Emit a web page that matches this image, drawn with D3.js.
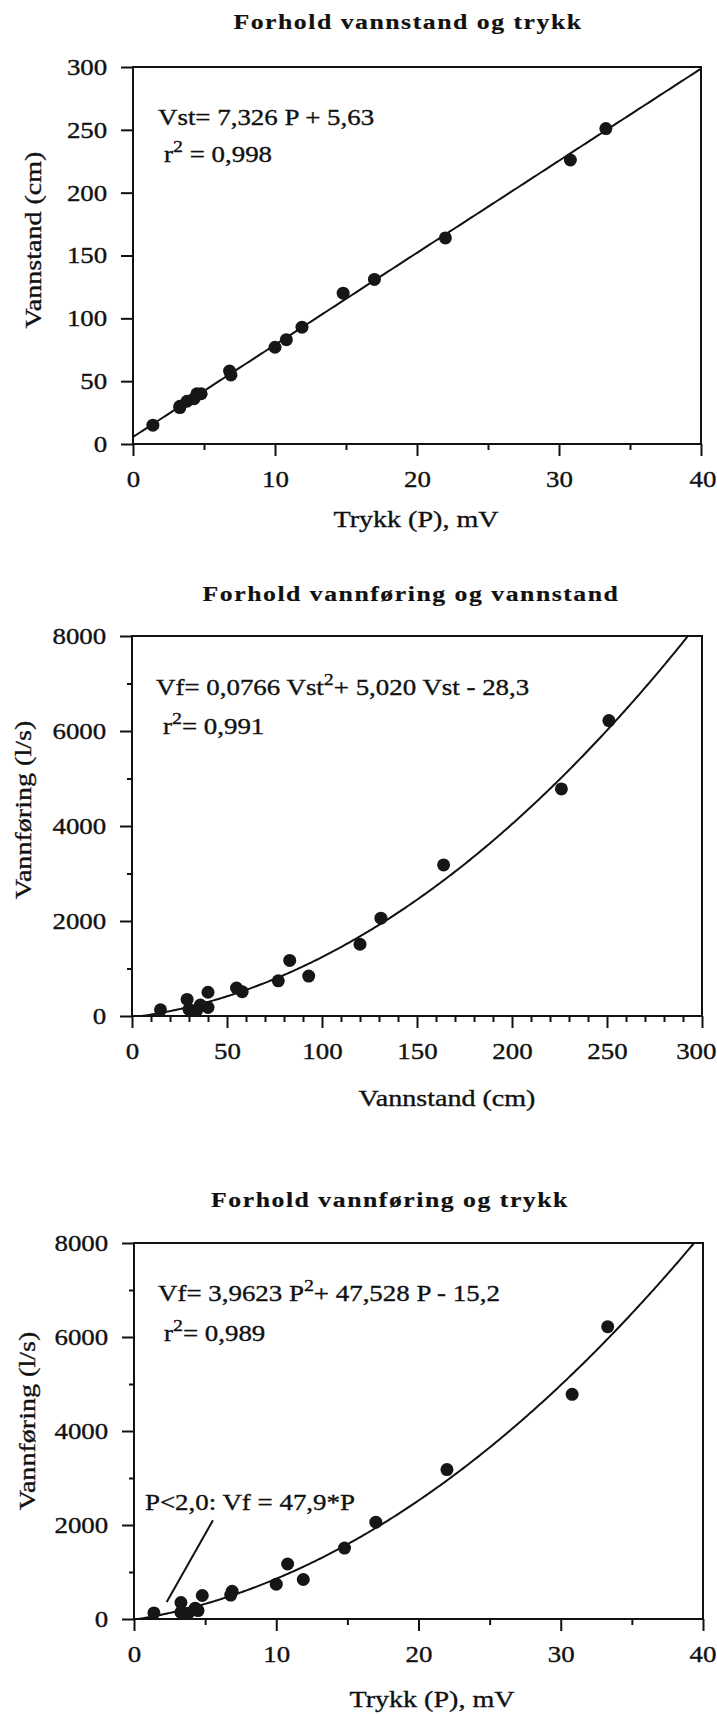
<!DOCTYPE html>
<html>
<head>
<meta charset="utf-8">
<script src="https://cdn.jsdelivr.net/npm/d3@7"></script>
<style>
  body { margin: 0; background: #fff; }
  svg { display: block; }
</style>
</head>
<body>
<div id="figur"></div>
<script>
// maalinger (samme 17 maalinger brukt i alle tre diagram)
const trykk      = [1.4, 3.3, 3.3, 3.8, 4.3, 4.5, 4.8, 6.8, 6.9, 10.0, 10.8, 11.9, 14.8, 17.0, 22.0, 30.8, 33.3];
const vannstand  = [15, 29, 30, 34, 36, 40, 40, 58, 55, 77, 83, 93, 120, 131, 164, 226, 251];
const vannforing = [130, 350, 140, 120, 230, 180, 500, 510, 590, 740, 1170, 840, 1510, 2060, 3180, 4780, 6220];

// regresjonskoeffisienter (hoeyeste grad foerst), lest fra likningene
const koefVst   = [7.326, 5.63];
const koefVfVst = [0.0766, 5.020, -28.3];
const koefVfP   = [3.9623, 47.528, -15.2];

// annotasjonslinje i nederste diagram (P, Vf)
const pilLinje = [[5.55, 2100], [2.3, 360]];

// akseverdier
const trykkTicks      = [0, 10, 20, 30, 40];
const trykkMinor      = [5, 15, 25, 35];
const vannstandTicks  = [0, 50, 100, 150, 200, 250, 300];
const vannstandMinor  = [10, 20, 30, 40, 60, 70, 80, 90, 110, 120, 130, 140, 160, 170, 180, 190, 210, 220, 230, 240, 260, 270, 280, 290];
const vannforingTicks = [0, 2000, 4000, 6000, 8000];
const vannforingMinor = [1000, 3000, 5000, 7000];

// tekster
const titler = ['Forhold vannstand og trykk', 'Forhold vannføring og vannstand', 'Forhold vannføring og trykk'];
const likninger = [
  [['Vst= 7,326 P + 5,63']],
  [['Vf= 0,0766 Vst'], ['2', 'sup'], ['+ 5,020 Vst - 28,3']],
  [['Vf= 3,9623 P'], ['2', 'sup'], ['+ 47,528 P - 15,2']]
];
const r2tekster = [
  [['r'], ['2', 'sup'], [' = 0,998']],
  [['r'], ['2', 'sup'], ['= 0,991']],
  [['r'], ['2', 'sup'], ['= 0,989']]
];
const pilTekst = 'P<2,0: Vf = 47,9*P';

const SX = 1.17; // skriften i originalen er bredere enn Times
const FONT = "'Liberation Serif', 'Times New Roman', serif";
const INK = '#111';

const svg = d3.select('#figur').append('svg')
  .attr('width', 717)
  .attr('height', 1714);

svg.append('rect').attr('width', 717).attr('height', 1714).attr('fill', '#fff');

//skriver tekst, evt. med hevet skrift
function tekst(g, x, y, deler, opt) {
  opt = opt || {};
  const t = g.append('text')
    .attr('transform', `translate(${x},${y})${opt.rot ? ' rotate(-90)' : ''} scale(${SX},1)`)
    .attr('text-anchor', opt.anchor || 'start')
    .attr('fill', INK)
    .attr('stroke', INK)
    .attr('stroke-width', opt.bold ? 0.2 : 0.35)
    .style('font-family', FONT)
    .style('font-size', (opt.size || 23) + 'px')
    .style('font-weight', opt.bold ? 'bold' : 'normal')
    .style('letter-spacing', (opt.ls || 0) + 'px');
  if (typeof deler === 'string') deler = [[deler]];
  let hevet = false;
  deler.forEach(d => {
    const ts = t.append('tspan').text(d[0]);
    if (d[1] === 'sup') {
      ts.attr('dy', -10).style('font-size', '17px');
      hevet = true;
    } else if (hevet) {
      ts.attr('dy', 10);
      hevet = false;
    }
  });
  return t;
}

function polyverdi(koef, v) {
  return koef.reduce((s, k) => s * v + k, 0);
}

const paneler = [
  { tittel: titler[0], tx: 408, ty: 29,
    x0: 133, x1: 701, y0: 67, y1: 444,
    xDom: [0, 40], yDom: [0, 300],
    xMaj: trykkTicks, xMin: trykkMinor, yMaj: vannstandTicks, yMin: [],
    xs: trykk, ys: vannstand, koef: koefVst,
    xTittel: 'Trykk (P), mV', xtx: 416, xty: 527,
    yTittel: 'Vannstand (cm)', ytx: 41, yty: 240,
    lik: likninger[0], likX: 158, likY: 125,
    r2: r2tekster[0], r2X: 164, r2Y: 162 },
  { tittel: titler[1], tx: 411, ty: 601,
    x0: 132, x1: 702, y0: 636, y1: 1016,
    xDom: [0, 300], yDom: [0, 8000],
    xMaj: vannstandTicks, xMin: vannstandMinor, yMaj: vannforingTicks, yMin: vannforingMinor,
    xs: vannstand, ys: vannforing, koef: koefVfVst,
    xTittel: 'Vannstand (cm)', xtx: 447, xty: 1106,
    yTittel: 'Vannføring (l/s)', ytx: 31, yty: 810,
    lik: likninger[1], likX: 156, likY: 695,
    r2: r2tekster[1], r2X: 163, r2Y: 734 },
  { tittel: titler[2], tx: 390, ty: 1207,
    x0: 134, x1: 703, y0: 1243, y1: 1619,
    xDom: [0, 40], yDom: [0, 8000],
    xMaj: trykkTicks, xMin: trykkMinor, yMaj: vannforingTicks, yMin: vannforingMinor,
    xs: trykk, ys: vannforing, koef: koefVfP,
    xTittel: 'Trykk (P), mV', xtx: 432, xty: 1707,
    yTittel: 'Vannføring (l/s)', ytx: 35, yty: 1421,
    lik: likninger[2], likX: 158, likY: 1301,
    r2: r2tekster[2], r2X: 164, r2Y: 1341,
    pil: true }
];

paneler.forEach((p, i) => {
  const w = p.x1 - p.x0, h = p.y1 - p.y0;
  const x = d3.scaleLinear().domain(p.xDom).range([0, w]);
  const y = d3.scaleLinear().domain(p.yDom).range([h, 0]);

  tekst(svg, p.tx, p.ty, p.tittel, { anchor: 'middle', bold: true, size: 22, ls: 1.3 });

  const g = svg.append('g').attr('transform', `translate(${p.x0},${p.y0})`);

  //klipp kurven til plottomraadet
  g.append('clipPath').attr('id', 'klipp' + i)
    .append('rect').attr('width', w).attr('height', h);

  //minor ticks
  g.append('g').attr('transform', `translate(0,${h})`)
    .call(d3.axisBottom(x).tickValues(p.xMin).tickSize(6).tickSizeOuter(0).tickFormat(''))
    .call(a => a.select('.domain').remove());
  g.append('g')
    .call(d3.axisLeft(y).tickValues(p.yMin).tickSize(5).tickSizeOuter(0).tickFormat(''))
    .call(a => a.select('.domain').remove());

  //hovedakser
  const ax = g.append('g').attr('transform', `translate(0,${h})`)
    .call(d3.axisBottom(x).tickValues(p.xMaj).tickSize(12).tickSizeOuter(0).tickPadding(15).tickFormat(d3.format('d')));
  const ay = g.append('g')
    .call(d3.axisLeft(y).tickValues(p.yMaj).tickSize(12).tickSizeOuter(0).tickPadding(10).tickFormat(d3.format('d')));

  [ax, ay].forEach(a => {
    a.selectAll('text')
      .attr('transform', `scale(${SX},1)`)
      .attr('fill', INK)
      .attr('stroke', INK)
      .attr('stroke-width', 0.35)
      .style('font-family', FONT)
      .style('font-size', '23px');
  });
  //siste x-etikett skal ikke gaa utenfor bildekanten
  ax.selectAll('.tick text')
    .filter(d => p.x0 + x(d) + 20 * SX > 716)
    .attr('text-anchor', 'end')
    .attr('x', d => (716 - p.x0 - x(d)) / SX);

  g.selectAll('.tick line').attr('stroke', INK).attr('stroke-width', 2);
  g.selectAll('.domain').attr('stroke', INK);

  //ramme
  g.append('rect')
    .attr('width', w).attr('height', h)
    .attr('fill', 'none')
    .attr('stroke', INK)
    .attr('stroke-width', 2);

  //regresjonskurve
  const steg = (p.xDom[1] - p.xDom[0]) / 300;
  const kurve = d3.range(p.xDom[0], p.xDom[1] + steg / 2, steg).map(v => [v, polyverdi(p.koef, v)]);
  g.append('path')
    .datum(kurve)
    .attr('clip-path', `url(#klipp${i})`)
    .attr('fill', 'none')
    .attr('stroke', INK)
    .attr('stroke-width', 2)
    .attr('d', d3.line().x(d => x(d[0])).y(d => y(d[1])));

  //maalepunkter
  g.selectAll('circle.pkt')
    .data(p.xs.map((v, j) => [v, p.ys[j]]))
    .join('circle')
    .attr('class', 'pkt')
    .attr('cx', d => x(d[0]))
    .attr('cy', d => y(d[1]))
    .attr('r', 6.5)
    .attr('fill', '#161616');

  if (p.pil) {
    g.append('path')
      .datum(pilLinje)
      .attr('fill', 'none')
      .attr('stroke', INK)
      .attr('stroke-width', 2)
      .attr('d', d3.line().x(d => x(d[0])).y(d => y(d[1])));
    tekst(svg, 145, 1510, pilTekst);
  }

  //likning og r2
  tekst(svg, p.likX, p.likY, p.lik);
  tekst(svg, p.r2X, p.r2Y, p.r2);

  //aksetitler
  tekst(svg, p.xtx, p.xty, p.xTittel, { anchor: 'middle', size: 24 });
  tekst(svg, p.ytx, p.yty, p.yTittel, { anchor: 'middle', size: 24, rot: true });
});
</script>
</body>
</html>
